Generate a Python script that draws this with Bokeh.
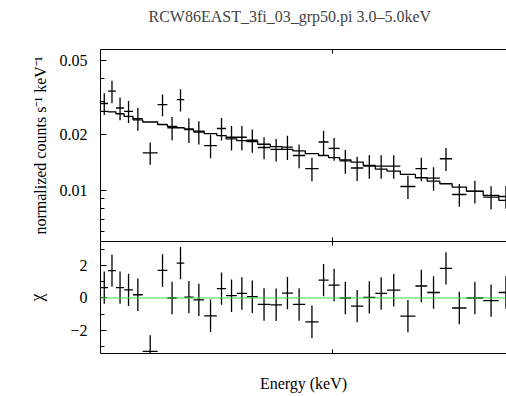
import numpy as np
from bokeh.plotting import figure
from bokeh.layouts import column
from bokeh.models import (Range1d, FixedTicker, LogAxis, LinearAxis,
                          PrintfTickFormatter, Span)
from bokeh.embed import file_html
from bokeh.resources import INLINE

title_text = "RCW86EAST_3fi_03_grp50.pi 3.0\u20135.0keV"
ylabel_top = "normalized counts s\u207b\u00b9 keV\u207b\u00b9"
ylabel_bot = "\u03c7"
xlabel = "Energy (keV)"

# energy bin edges (keV)
e_edges = [3.000, 3.028, 3.058, 3.089, 3.123, 3.161, 3.220, 3.259, 3.297, 3.328,
           3.366, 3.411, 3.465, 3.505, 3.552, 3.596, 3.645, 3.702, 3.756, 3.807,
           3.866, 3.930, 3.979, 4.034, 4.091, 4.154, 4.216, 4.278, 4.349, 4.431,
           4.496, 4.567, 4.637, 4.720, 4.819, 4.913, 5.000]
# data (normalized counts s^-1 keV^-1)
flux = [0.0293, 0.0341, 0.0277, 0.0266, 0.0243, 0.0159, 0.0289, 0.0217, 0.0307, 0.0212,
        0.0206, 0.0174, 0.0215, 0.0193, 0.0193, 0.0186, 0.0170, 0.0166, 0.0171, 0.0154,
        0.0131, 0.0182, 0.0168, 0.0144, 0.0132, 0.0135, 0.0135, 0.0135, 0.0105, 0.0131,
        0.01165, 0.0148, 0.00951, 0.00988, 0.00921, 0.00928]
flux_err = [0.0039, 0.0047, 0.00385, 0.0036, 0.0034, 0.00216, 0.00385, 0.0031, 0.0042, 0.0032,
            0.00295, 0.0025, 0.00295, 0.0029, 0.0029, 0.00265, 0.0023, 0.0023, 0.00255, 0.00225,
            0.0019, 0.0027, 0.00235, 0.0021, 0.00195, 0.00195, 0.00195, 0.00195, 0.0015, 0.0019,
            0.00168, 0.0021, 0.00133, 0.00138, 0.00132, 0.0013]
model = [0.0266, 0.0264, 0.0258, 0.0250, 0.0239, 0.0233, 0.0226, 0.0221, 0.0217, 0.0214,
         0.0208, 0.0202, 0.0197, 0.0189, 0.0185, 0.0183, 0.0177, 0.0172, 0.0166, 0.0163,
         0.01575, 0.0154, 0.0150, 0.0146, 0.0142, 0.01363, 0.0130, 0.0127, 0.0122, 0.0117,
         0.01122, 0.01086, 0.01042, 0.00991, 0.0094, 0.00885]
# residuals (chi)
chi = [0.64, 1.69, 0.64, 0.5, 0.2, -3.3, 1.7, 0.0, 2.15, 0.05,
       -0.12, -1.1, 0.58, 0.14, 0.28, 0.08, -0.4, -0.42, 0.3, -0.4,
       -1.47, 1.1, 0.8, 0.0, -0.5, 0.04, 0.28, 0.48, -1.12, 0.74,
       0.34, 1.83, -0.62, 0.0, -0.16, 0.34]
chi_err = [1.0] * 36

lo = np.array(e_edges[:-1]); hi = np.array(e_edges[1:])
ctr = (lo + hi) / 2
f = np.array(flux); fe = np.array(flux_err)
c = np.array(chi); ce = np.array(chi_err)

SERIF = "Liberation Serif"
FS = "16px"
W = 506
XR = (3.0, 4.96)

def style_axis(ax, size=FS):
    ax.axis_line_color = "black"
    ax.axis_line_width = 1
    ax.major_tick_line_color = "black"
    ax.minor_tick_line_color = "black"
    ax.major_tick_out = 0
    ax.minor_tick_out = 0
    ax.major_label_text_font = SERIF
    ax.major_label_text_font_size = size
    ax.major_label_text_color = "black"
    ax.axis_label_text_font = SERIF
    ax.axis_label_text_font_style = "normal"
    ax.axis_label_text_color = "black"

def x_axis():
    ax = LogAxis(ticker=FixedTicker(ticks=[4.0], minor_ticks=[]))
    style_axis(ax, "1px")
    ax.major_label_overrides = {4: ""}
    ax.major_tick_in = 4
    ax.major_label_standoff = 0
    return ax

# ---- title strip
p0 = figure(width=W, height=41, x_range=Range1d(0, 1), y_range=Range1d(0, 1),
            output_backend="svg", toolbar_location=None,
            x_axis_location=None, y_axis_location=None,
            min_border_left=100, min_border_right=0, min_border_top=0, min_border_bottom=0)
p0.outline_line_color = None
p0.grid.visible = False
p0.title.text = title_text
p0.title.text_font = SERIF
p0.title.text_font_size = FS
p0.title.text_font_style = "normal"
p0.title.align = "left"
p0.title.offset = 48
p0.title.standoff = 10

# ---- top panel
p1 = figure(width=W, height=200, x_axis_type="log", y_axis_type="log",
            x_range=Range1d(*XR), y_range=Range1d(0.00532, 0.0571),
            output_backend="svg", toolbar_location=None, title_location=None,
            x_axis_location=None, y_axis_location=None,
            min_border_left=100, min_border_right=0, min_border_top=8, min_border_bottom=0)
p1.outline_line_color = None
p1.grid.visible = False

ly = LogAxis(ticker=FixedTicker(ticks=[0.01, 0.02, 0.05],
                                minor_ticks=[0.006, 0.007, 0.008, 0.009, 0.03, 0.04]),
             formatter=PrintfTickFormatter(format="%.2f"))
style_axis(ly)
ly.major_tick_in = 6
ly.minor_tick_in = 4
ly.major_label_standoff = 13
ly.axis_label = ylabel_top
ly.axis_label_text_font_size = FS
ly.axis_label_standoff = 8
p1.add_layout(ly, "left")
p1.add_layout(x_axis(), "above")
p1.add_layout(x_axis(), "below")

p1.step(x=list(e_edges), y=list(model) + [model[-1]], mode="after",
        line_color="black", line_width=1.3)
p1.segment(x0=lo, y0=f, x1=hi, y1=f, line_color="black", line_width=1.3)
p1.segment(x0=ctr, y0=f - fe, x1=ctr, y1=f + fe, line_color="black", line_width=1.3)

# ---- bottom panel
p2 = figure(width=W, height=153, x_axis_type="log",
            x_range=p1.x_range, y_range=Range1d(-3.43, 3.49),
            output_backend="svg", toolbar_location=None,
            x_axis_location=None, y_axis_location=None,
            min_border_left=100, min_border_right=0, min_border_top=0, min_border_bottom=38)
p2.outline_line_color = None
p2.grid.visible = False

ly2 = LinearAxis(ticker=FixedTicker(ticks=[-2, 0, 2], minor_ticks=[-3, -1, 1, 3]))
ly2.major_label_overrides = {-2: "\u22122", 0: "0", 2: "2"}
style_axis(ly2)
ly2.major_tick_in = 6
ly2.minor_tick_in = 4
ly2.major_label_standoff = 13
ly2.axis_label = ylabel_bot
ly2.axis_label_text_font_size = "18px"
ly2.axis_label_standoff = 20
p2.add_layout(ly2, "left")
p2.add_layout(x_axis(), "above")
bx = x_axis()
bx.axis_label = xlabel
bx.axis_label_text_font_size = FS
bx.axis_label_standoff = 21
p2.add_layout(bx, "below")

p2.add_layout(Span(location=0, dimension="width", line_color="#3ddc3d", line_width=1.2))
p2.segment(x0=lo, y0=c, x1=hi, y1=c, line_color="black", line_width=1.3)
p2.segment(x0=ctr, y0=c - ce, x1=ctr, y1=c + ce, line_color="black", line_width=1.3)

layout = column(p0, p1, p2, spacing=0)
open("out.html", "w").write(file_html(layout, INLINE))
